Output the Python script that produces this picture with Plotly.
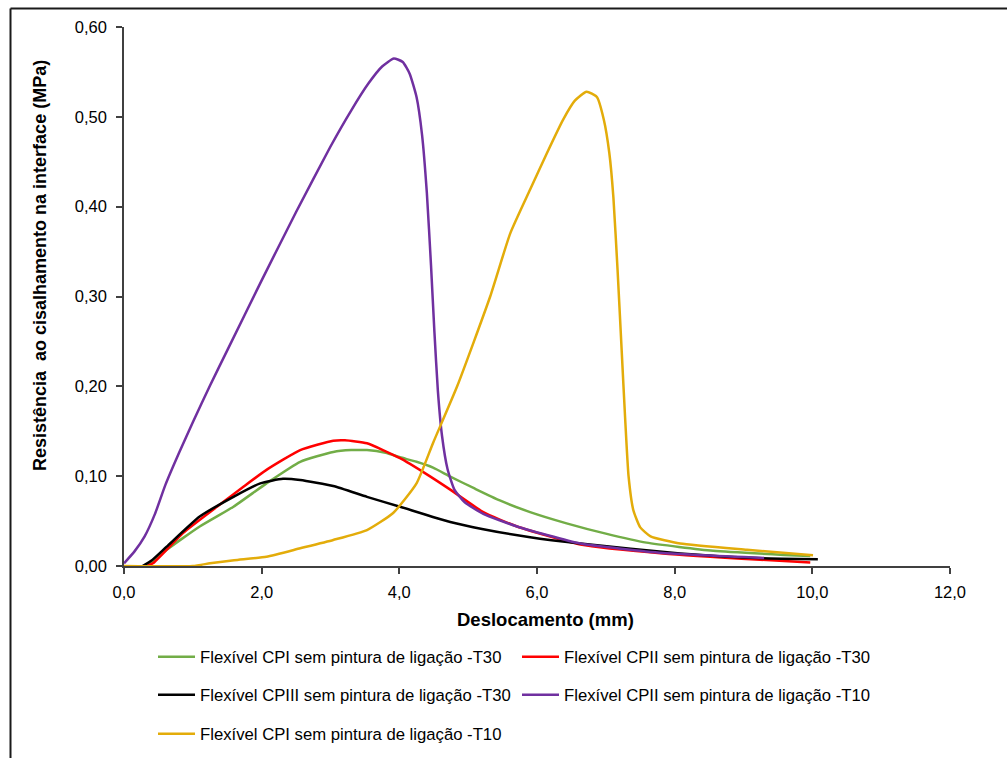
import plotly.graph_objects as go

# ---- data ----
green_name = "Flexível CPI sem pintura de ligação -T30"
green_x = [0.35, 0.62, 1.10, 1.59, 2.07, 2.56, 3.04, 3.30, 3.53, 3.80, 4.01, 4.25, 4.49, 4.74, 5.10, 5.46, 5.90, 6.43, 7.00, 7.59, 8.56, 9.97]
green_y = [0.0, 0.018, 0.044, 0.066, 0.092, 0.116, 0.127, 0.129, 0.129, 0.126, 0.121, 0.116, 0.1095, 0.0995, 0.086, 0.073, 0.060, 0.0475, 0.036, 0.026, 0.017, 0.011]

red_name = "Flexível CPII sem pintura de ligação -T30"
red_x = [0.33, 0.42, 0.86, 1.35, 1.73, 2.07, 2.56, 3.04, 3.21, 3.53, 4.01, 4.40, 4.74, 5.22, 5.71, 6.63, 7.83, 9.24, 9.97]
red_y = [0.0, 0.003, 0.037, 0.066, 0.088, 0.107, 0.129, 0.1395, 0.140, 0.1366, 0.120, 0.102, 0.085, 0.060, 0.044, 0.024, 0.014, 0.007, 0.004]

black_name = "Flexível CPIII sem pintura de ligação -T30"
black_x = [0.27, 0.40, 0.62, 1.10, 1.59, 1.98, 2.31, 2.56, 3.04, 3.53, 4.01, 4.74, 5.22, 5.90, 6.63, 8.08, 9.28, 10.08]
black_y = [0.0, 0.006, 0.0215, 0.055, 0.077, 0.092, 0.097, 0.0957, 0.089, 0.077, 0.066, 0.049, 0.041, 0.032, 0.025, 0.014, 0.0085, 0.0075]

purple_name = "Flexível CPII sem pintura de ligação -T10"
purple_x = [0.0, 0.15, 0.30, 0.45, 0.60, 0.80, 1.00, 1.25, 1.50, 2.00, 2.50, 3.00, 3.30, 3.55, 3.75, 3.92, 4.05, 4.15, 4.25, 4.33, 4.40, 4.46, 4.51, 4.56, 4.62, 4.70, 4.80, 4.95, 5.22, 5.71, 6.63, 7.83, 9.30]
purple_y = [0.003, 0.016, 0.033, 0.058, 0.090, 0.126, 0.160, 0.201, 0.240, 0.318, 0.394, 0.467, 0.507, 0.537, 0.556, 0.565, 0.561, 0.548, 0.522, 0.480, 0.415, 0.335, 0.260, 0.195, 0.145, 0.108, 0.085, 0.071, 0.058, 0.044, 0.025, 0.0145, 0.009]

yellow_name = "Flexível CPI sem pintura de ligação -T10"
yellow_x = [0.0, 1.0, 1.25, 1.60, 2.07, 2.56, 3.04, 3.53, 3.91, 4.25, 4.49, 4.84, 5.32, 5.61, 5.90, 6.14, 6.38, 6.55, 6.72, 6.87, 6.97, 7.05, 7.11, 7.17, 7.23, 7.28, 7.33, 7.40, 7.50, 7.65, 8.08, 9.05, 10.01]
yellow_y = [0.0, 0.0, 0.003, 0.0065, 0.0104, 0.0197, 0.029, 0.040, 0.059, 0.092, 0.137, 0.200, 0.300, 0.370, 0.419, 0.459, 0.497, 0.518, 0.528, 0.522, 0.497, 0.460, 0.410, 0.330, 0.240, 0.165, 0.100, 0.062, 0.043, 0.033, 0.025, 0.018, 0.012]

x_ticks = [0, 2, 4, 6, 8, 10, 12]
y_ticks = [0, 0.1, 0.2, 0.3, 0.4, 0.5, 0.6]

FONT = "Liberation Sans, Arial, sans-serif"
FS = 16.5
LFS = 16.7

W, H = 1007, 758
L, R, T, B = 124, 57, 27, 192
pw, ph = W - L - R, H - T - B

def px(xp):
    return (xp - L) / pw

def py(yp):
    return (H - B - yp) / ph

# (name, x, y, colour, legend id, legend left px, legend row centre px)
series = [
    (green_name, green_x, green_y, "#72AD47", "legend", 153, 657),
    (red_name, red_x, red_y, "#FF0000", "legend2", 517, 657),
    (black_name, black_x, black_y, "#000000", "legend3", 153, 695),
    (purple_name, purple_x, purple_y, "#7030A0", "legend4", 517, 695),
    (yellow_name, yellow_x, yellow_y, "#E3AC0A", "legend5", 153, 734),
]

fig = go.Figure()
legends = {}
for name, xs, ys, col, lg, lx, ly in series:
    fig.add_trace(go.Scatter(
        x=xs, y=ys, mode="lines", name=name, legend=lg, showlegend=True,
        line=dict(color=col, width=2.5, shape="spline", smoothing=0.5),
    ))
    legends[lg] = dict(orientation="h", x=px(lx), y=py(ly),
                       xanchor="left", yanchor="middle", visible=True,
                       font=dict(family=FONT, size=LFS, color="#000000"),
                       bgcolor="rgba(0,0,0,0)", itemwidth=37)

axis_common = dict(showgrid=False, zeroline=False, showline=True,
                   linecolor="#404040", linewidth=1.5, ticks="outside",
                   ticklen=6, tickcolor="#404040", tickwidth=1.5,
                   tickfont=dict(family=FONT, size=FS, color="#000000"))

fig.update_layout(
    width=W, height=H, showlegend=True,
    margin=dict(l=L, r=R, t=T, b=B, autoexpand=False),
    paper_bgcolor="white", plot_bgcolor="white",
    separators=",.",
    font=dict(family=FONT, size=FS, color="#000000"),
    xaxis=dict(range=[0, 12], tickvals=x_ticks, tickformat=".1f",
               ticklabelstandoff=4, **axis_common),
    yaxis=dict(range=[0, 0.6], tickvals=y_ticks, tickformat=".2f",
               ticklabelstandoff=6, **axis_common),
    annotations=[
        dict(text="<b>Deslocamento (mm)</b>", xref="paper", yref="paper",
             x=px(545), y=py(619), xanchor="center", yanchor="middle",
             showarrow=False, font=dict(family=FONT, size=18.5, color="#000000")),
        dict(text="<b>Resistência  ao cisalhamento na interface (MPa)</b>",
             xref="paper", yref="paper", x=px(40), y=py(266), textangle=-90,
             xanchor="center", yanchor="middle",
             showarrow=False, font=dict(family=FONT, size=18, color="#000000")),
    ],
    shapes=[
        dict(type="line", xref="paper", yref="paper",
             x0=px(10.5), x1=px(10.5), y0=py(8.5), y1=py(800),
             line=dict(color="#1a1a1a", width=2)),
        dict(type="line", xref="paper", yref="paper",
             x0=px(10.5), x1=px(1050), y0=py(8.5), y1=py(8.5),
             line=dict(color="#1a1a1a", width=2)),
    ],
    **legends,
)

fig.write_html("out.html", config={"displayModeBar": False},
               post_script="document.body.style.margin='0px';")
